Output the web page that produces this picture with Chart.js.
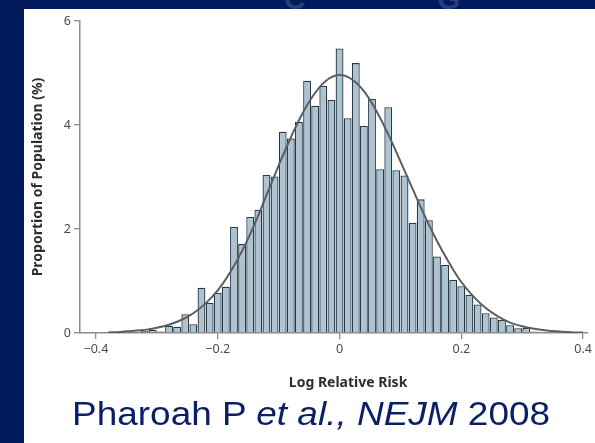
<!DOCTYPE html>
<html>
<head>
<meta charset="utf-8">
<script src="https://cdn.jsdelivr.net/npm/chart.js@4.4.0/dist/chart.umd.min.js"></script>
<style>
  html, body { margin: 0; padding: 0; }
  body { width: 595px; height: 443px; background: #001a5c; position: relative; overflow: hidden; }
  .ghost { position: absolute; top: -18px; font: bold 30px "Liberation Sans", Arial, sans-serif; color: #283d7e; }
  #sheet { position: absolute; left: 24px; top: 9px; width: 571px; height: 434px; background: #fff; }
  #chart-wrap { position: absolute; left: 0; top: 0; width: 571px; height: 390px; }
  #caption {
    position: absolute; left: 48px; top: 388px; line-height: 33px; white-space: nowrap;
    font-family: "Liberation Sans", Arial, sans-serif; font-size: 33px; color: #0a1f66;
    transform: scaleX(1.12); transform-origin: left top;
  }
</style>
</head>
<body>
<span class="ghost" style="left:284px">C</span>
<span class="ghost" style="left:437px">G</span>
<div id="sheet">
  <div id="chart-wrap"><canvas id="riskChart" width="571" height="390"></canvas></div>
  <div id="caption">Pharoah P <i>et al., NEJM</i> 2008</div>
</div>
<script>
// histogram bins (centre of each bin, log relative risk)
const binCenters = [
  -0.36, -0.3467, -0.3333, -0.32, -0.3067, -0.2933, -0.28, -0.2667, -0.2533, -0.24,
  -0.2267, -0.2133, -0.2, -0.1867, -0.1733, -0.16, -0.1467, -0.1333, -0.12, -0.1067,
  -0.0933, -0.08, -0.0667, -0.0533, -0.04, -0.0267, -0.0133, 0,
  0.0133, 0.0267, 0.04, 0.0533, 0.0667, 0.08, 0.0933, 0.1067, 0.12, 0.1333,
  0.1467, 0.16, 0.1733, 0.1867, 0.2, 0.2133, 0.2267, 0.24, 0.2533, 0.2667,
  0.28, 0.2933, 0.3067, 0.32, 0.3333
]
// proportion of population in each bin (%)
const proportions = [
  0.01, 0.02, 0.02, 0.04, 0.06, 0.03, 0.14, 0.12, 0.36, 0.17,
  0.87, 0.58, 0.77, 0.89, 2.04, 1.71, 2.23, 2.37, 3.04, 3.01,
  3.87, 3.74, 4.06, 4.85, 4.37, 4.75, 4.48, 5.47,
  4.13, 5.19, 3.98, 4.50, 3.15, 4.34, 3.13, 3.03, 2.12, 2.57,
  2.17, 1.47, 1.31, 1.02, 0.90, 0.73, 0.55, 0.38, 0.30, 0.25,
  0.15, 0.09, 0.10, 0.03, 0.01
]
// fitted curve
const curveX = [
  -0.38, -0.36, -0.34, -0.32, -0.30, -0.28, -0.26, -0.24, -0.22, -0.20,
  -0.18, -0.16, -0.14, -0.12, -0.10, -0.08, -0.06, -0.04, -0.02, 0,
  0.02, 0.04, 0.06, 0.08, 0.10, 0.12, 0.14, 0.16, 0.18, 0.20,
  0.22, 0.24, 0.26, 0.28, 0.30, 0.32, 0.34, 0.36, 0.38, 0.40
]
const curveY = [
  0.01, 0.02, 0.04, 0.06, 0.10, 0.16, 0.25, 0.38, 0.57, 0.82,
  1.16, 1.58, 2.08, 2.65, 3.22, 3.76, 4.24, 4.62, 4.87, 4.96,
  4.88, 4.65, 4.28, 3.82, 3.30, 2.77, 2.25, 1.77, 1.35, 0.98,
  0.70, 0.48, 0.32, 0.20, 0.13, 0.08, 0.05, 0.03, 0.015, 0.008
]
const xTicks = [-0.4, -0.2, 0, 0.2, 0.4]
const yTicks = [0, 2, 4, 6]

const axisColor = '#8c8c8c'
const tickFont = { family: 'Noto Sans', size: 12.5 }
const titleFont = { family: 'Noto Sans', size: 14, weight: 'bold' }

function fmt(v) {
  return v < 0 ? '\u2212' + Math.abs(v) : String(v)
}

const ctx = document.getElementById('riskChart').getContext('2d')
new Chart(ctx, {
  data: {
    datasets: [{
      type: 'line',
      data: curveX.map((x, i) => ({ x: x, y: curveY[i] })),
      borderColor: '#595e62',
      borderWidth: 2,
      pointRadius: 0,
      tension: 0.4,
      fill: false,
      order: 0
    }, {
      type: 'bar',
      data: binCenters.map((x, i) => ({ x: x, y: proportions[i] })),
      backgroundColor: '#abc4d3',
      borderColor: '#2c3740',
      borderWidth: 1.3,
      barPercentage: 1,
      categoryPercentage: 0.97,
      order: 1
    }]
  },
  options: {
    responsive: false,
    animation: false,
    layout: { padding: { top: 12, right: 5, bottom: 0, left: 0 } },
    plugins: { legend: { display: false }, tooltip: { enabled: false } },
    scales: {
      x: {
        type: 'linear',
        min: -0.4262,
        max: 0.4082,
        offset: false,
        afterBuildTicks: s => { s.ticks = xTicks.map(v => ({ value: v })) },
        afterFit: s => { s.height = 66 },
        grid: { drawOnChartArea: false, tickLength: 6, color: axisColor, lineWidth: 1.3, offset: false },
        border: { color: axisColor, width: 1.5 },
        ticks: { color: '#4a4a4a', font: tickFont, padding: 3, maxRotation: 0, autoSkip: false, callback: fmt },
        // leading em spaces nudge the title a little to the right, as in the original
        title: { display: true, text: '\u2003\u2003Log Relative Risk', color: '#2e2e2e', font: titleFont, padding: { top: 0, bottom: 8 } }
      },
      y: {
        min: 0,
        max: 6,
        afterBuildTicks: s => { s.ticks = yTicks.map(v => ({ value: v })) },
        afterFit: s => { s.width = 56 },
        grid: { drawOnChartArea: false, tickLength: 6, color: axisColor, lineWidth: 1.3 },
        border: { color: axisColor, width: 1.5 },
        ticks: { color: '#4a4a4a', font: tickFont, padding: 3, callback: fmt },
        title: { display: true, text: 'Proportion of Population (%)', color: '#2e2e2e', font: titleFont, padding: { top: 6, bottom: 0 } }
      }
    }
  }
})
</script>
</body>
</html>
